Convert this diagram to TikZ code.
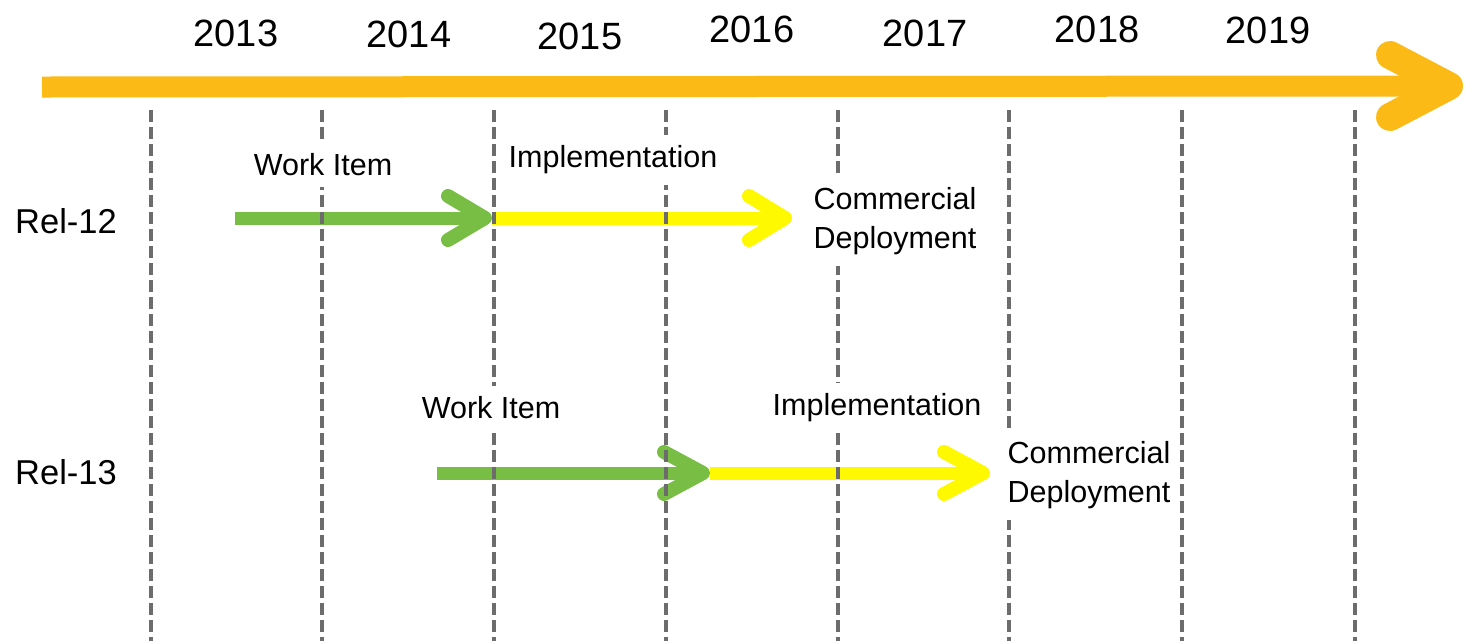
\documentclass[tikz,border=0pt]{standalone}
\usepackage{fontspec}
\setmainfont{Liberation Sans}
\definecolor{gold}{RGB}{251,186,22}
\definecolor{leaf}{RGB}{121,190,68}
\definecolor{lemon}{RGB}{255,249,0}
\definecolor{gridgray}{RGB}{108,108,108}
\begin{document}
\begin{tikzpicture}[x=1pt,y=-1pt,
  yearlbl/.style={font=\fontsize{38}{40}\selectfont, inner sep=0pt},
  phase/.style={font=\fontsize{30.5}{39}\selectfont, fill=white, inner xsep=4pt, inner ysep=11pt, align=center},
  rellbl/.style={font=\fontsize{34.5}{36}\selectfont, inner sep=0pt},
  gridline/.style={draw=gridgray, line width=3.5pt, dash pattern=on 12pt off 5pt},
  shaft/.style={line width=13pt},
  head/.style={line width=14pt, line cap=round, line join=round},
]
\useasboundingbox (0,0) rectangle (1466,641);

% main timeline arrow
\coordinate (tA) at (42,87);
\coordinate (tB) at (1449,86);
\coordinate (tB1) at (1390,55);
\coordinate (tB2) at (1390,117);
\draw[gold, line width=21pt] (tA) -- (tB);
\draw[gold, line width=28pt, line cap=round, line join=round] (tB1) -- (tB) -- (tB2);

% Rel-12 arrows
\coordinate (a1s) at (235,218);
\coordinate (a1e) at (485,218);
\coordinate (a1u) at (448,196);
\coordinate (a1d) at (448,240);
\coordinate (b1s) at (492,218);
\coordinate (b1e) at (785,218);
\coordinate (b1u) at (749,196);
\coordinate (b1d) at (749,240);
\draw[leaf, shaft] (a1s) -- (a1e);
\draw[leaf, head] (a1u) -- (a1e) -- (a1d);
\draw[lemon, shaft] (b1s) -- (b1e);
\draw[lemon, head] (b1u) -- (b1e) -- (b1d);

% Rel-13 arrows
\coordinate (a2s) at (437,473);
\coordinate (a2e) at (703,473);
\coordinate (a2u) at (664,452);
\coordinate (a2d) at (664,494);
\coordinate (b2s) at (710,473);
\coordinate (b2e) at (983,473);
\coordinate (b2u) at (944,452);
\coordinate (b2d) at (944,494);
\draw[leaf, shaft] (a2s) -- (a2e);
\draw[leaf, head] (a2u) -- (a2e) -- (a2d);
\draw[lemon, shaft] (b2s) -- (b2e);
\draw[lemon, head] (b2u) -- (b2e) -- (b2d);

% dashed year separators
\foreach \gx in {151,322,494,666,838,1009,1182,1355}
  \draw[gridline] (\gx,110) -- (\gx,641);

% year labels
\node[yearlbl] (y2013) at (236,33) {2013};
\node[yearlbl] (y2014) at (409,34) {2014};
\node[yearlbl] (y2015) at (580,36) {2015};
\node[yearlbl] (y2016) at (752,29) {2016};
\node[yearlbl] (y2017) at (925,33) {2017};
\node[yearlbl] (y2018) at (1097,29) {2018};
\node[yearlbl] (y2019) at (1268,30) {2019};

% release labels
\node[rellbl] (r12) at (66,221) {Rel-12};
\node[rellbl] (r13) at (66,472) {Rel-13};

% phase labels
\node[phase] (wi12) at (323,165) {Work Item};
\node[phase] (im12) at (613,160) {Implementation};
\node[phase] (cd12) at (895,221) {Commercial\\Deployment};
\node[phase] (wi13) at (491,408) {Work Item};
\node[phase] (im13) at (877,408) {Implementation};
\node[phase] (cd13) at (1089,475) {Commercial\\Deployment};
\end{tikzpicture}
\end{document}
